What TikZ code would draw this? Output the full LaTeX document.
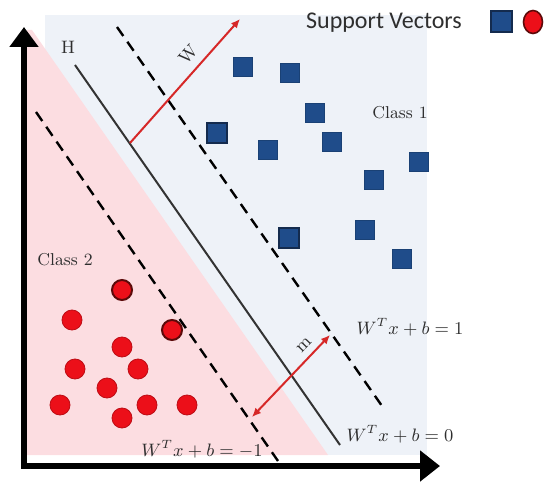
\documentclass[tikz,border=0pt]{standalone}
\usepackage{fontspec}
\newfontfamily\legendfont{Carlito}
\usetikzlibrary{arrows.meta,shapes.geometric}
\definecolor{regionBlue}{HTML}{EEF2F8}
\definecolor{regionPink}{HTML}{FCDDE1}
\definecolor{sqBlue}{HTML}{1F4C8A}
\definecolor{sqEdge}{HTML}{142B4E}
\definecolor{dotRed}{HTML}{EC0F19}
\definecolor{dotEdge}{HTML}{5C0A0A}
\definecolor{vecRed}{HTML}{D62828}
\definecolor{inkText}{HTML}{2E2E2E}
\definecolor{hypLine}{HTML}{333333}

\begin{document}
\begin{tikzpicture}[
  x=0.5pt, y=-0.5pt,
  every node/.style={text=inkText},
  sq/.style={rectangle, fill=sqBlue, draw=sqBlue!85!black, line width=0.4pt,
             minimum size=9.8pt, inner sep=0pt},
  sqsv/.style={sq, draw=sqEdge, line width=1pt},
  dot/.style={circle, fill=dotRed, draw=dotRed!80!black, line width=0.4pt,
              minimum size=10pt, inner sep=0pt},
  dotsv/.style={dot, draw=dotEdge, line width=1pt},
  hyp/.style={draw=hypLine, line width=1pt},
  marg/.style={draw=black, line width=1.2pt, dash pattern=on 5.5pt off 3.5pt},
  axis/.style={line width=2.6pt,
               {Triangle[length=10pt,width=14pt]}-{Triangle[length=10pt,width=15pt]}},
  vec/.style={draw=vecRed, line width=1pt, -{Latex[length=4.5pt,width=4pt]}},
  vecbi/.style={vec, {Latex[length=4.5pt,width=4pt]}-{Latex[length=4.5pt,width=4pt]}},
  lbl/.style={font=\fontsize{9}{11}\selectfont, inner sep=1pt},
]
\useasboundingbox (0,0) rectangle (544,485);

% ---------------- REGIONS (pixel grid, y down) ----------------
\fill[regionBlue] (45,15) rectangle (427,455);
\fill[regionPink] (27,30) -- (32,30) -- (328,455) -- (27,455) -- cycle;

% ---------------- HYPERPLANES ----------------
\coordinate (Htop) at (75,65);   \coordinate (Hbot) at (340,445);
\coordinate (Ptop) at (117,27);  \coordinate (Pbot) at (382,406);
\coordinate (Ntop) at (36,112);  \coordinate (Nbot) at (278,461);
\draw[hyp]  (Htop) -- (Hbot);
\draw[marg] (Ptop) -- (Pbot);
\draw[marg] (Ntop) -- (Nbot);

% ---------------- POINTS ----------------
% class 1 (squares), support vectors outlined
\foreach \p [count=\i] in {(243,67),(290,73),(315,113),(268,150),(332,142),
                           (419,162),(374,180),(365,230),(402,259)}
  \node[sq] (sq\i) at \p {};
\node[sqsv] (svA) at (217,133) {};
\node[sqsv] (svB) at (289,238) {};
% class 2 (circles)
\foreach \p [count=\i] in {(72,320),(122,347),(75,369),(138,369),(107,388),
                           (60,405),(147,405),(187,405),(122,418)}
  \node[dot] (ci\i) at \p {};
\node[dotsv] (svC) at (122,290) {};
\node[dotsv] (svD) at (172,330) {};

% ---------------- VECTORS ----------------
\coordinate (wBase) at (130,143); \coordinate (wTip) at (240,19);
\coordinate (mLow) at (252,417);  \coordinate (mUp) at (330,335);
\draw[vec]   (wBase) -- (wTip);
\draw[vecbi] (mLow) -- (mUp);

% ---------------- AXES ----------------
\coordinate (yTip) at (24,27); \coordinate (xTip) at (440,466);
\draw[axis] (yTip) |- (xTip);

% ---------------- LABELS ----------------
\node[lbl] (hLbl) at (68,47) {H};
\node[lbl, rotate=48] (wLbl) at (188,54) {W};
\node[lbl, rotate=46] (mLbl) at (304,345) {m};
\node[lbl, font=\fontsize{8.6}{10}\selectfont] (c1Lbl) at (400,113) {Class 1};
\node[lbl, font=\fontsize{8.6}{10}\selectfont] (c2Lbl) at (65,260) {Class 2};
\node[lbl] (eqPos) at (410,327) {$W^T x + b = 1$};
\node[lbl] (eqZero) at (400,434) {$W^T x + b = 0$};
\node[lbl] (eqNeg) at (202,449) {$W^T x + b = -1$};

% ---------------- LEGEND ----------------
\node[font=\legendfont\fontsize{12}{14}\selectfont, inner sep=0pt] (svTitle) at (384,23) {Support Vectors};
\node[sqsv, minimum size=10.5pt] (legSq) at (501,22) {};
\node[ellipse, fill=dotRed, draw=dotEdge, line width=0.8pt, minimum width=9.5pt,
      minimum height=11.5pt, inner sep=0pt] (legDot) at (533,22) {};
\end{tikzpicture}
\end{document}
